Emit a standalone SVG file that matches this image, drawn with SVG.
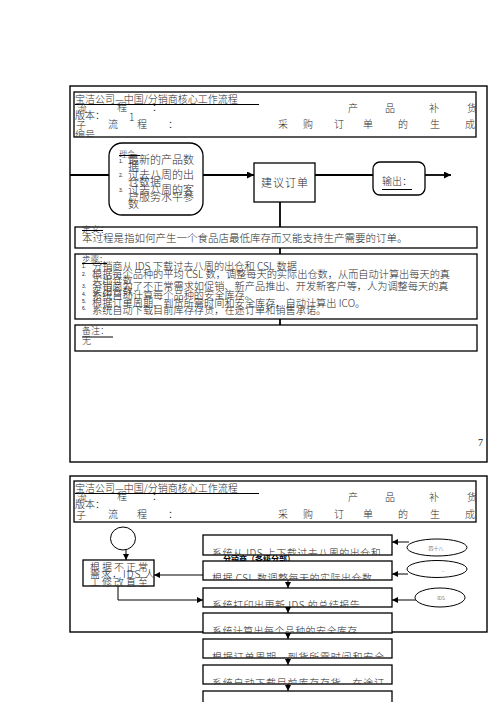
<svg xmlns="http://www.w3.org/2000/svg" width="496" height="702" viewBox="0 0 496 702">
<style>
.t{font-family:"Noto Sans CJK SC","Noto Sans",sans-serif;fill:#2a2a2a;font-weight:300}
.b{font-weight:bold;fill:#000}
.s{font-size:10px}
.h{font-size:10px;text-anchor:middle}
.frame{fill:none;stroke:#000;stroke-width:1.4}
.box{fill:#fff;stroke:#000;stroke-width:1.3}
.ln{fill:none;stroke:#000;stroke-width:1.8}
.ln2{fill:none;stroke:#000;stroke-width:1}
.ul{stroke:#000;stroke-width:1}
.num{font-family:"Liberation Sans",sans-serif;font-size:5px;fill:#222}
.el{fill:#fff;stroke:#000;stroke-width:1}
</style>
<defs>
<marker id="ah" viewBox="0 0 7 7" markerWidth="7" markerHeight="7" refX="7" refY="3.5" orient="auto" markerUnits="userSpaceOnUse"><path d="M0,0 L7,3.5 L0,7 z" fill="#000"/></marker>
<marker id="ah2" viewBox="0 0 6 6" markerWidth="6" markerHeight="6" refX="6" refY="3" orient="auto" markerUnits="userSpaceOnUse"><path d="M0,0 L6,3 L0,6 z" fill="#000"/></marker>
<clipPath id="c1"><rect x="75" y="93" width="401" height="44"/></clipPath>
<clipPath id="c2"><rect x="75" y="482" width="401" height="40"/></clipPath>
<clipPath id="b1"><rect x="203" y="535" width="189" height="20"/></clipPath>
<clipPath id="b2"><rect x="203" y="561" width="189" height="19"/></clipPath>
<clipPath id="b3"><rect x="203" y="588" width="189" height="19"/></clipPath>
<clipPath id="b4"><rect x="203" y="613" width="189" height="20"/></clipPath>
<clipPath id="b5"><rect x="203" y="639" width="189" height="19"/></clipPath>
<clipPath id="b6"><rect x="203" y="665" width="189" height="19"/></clipPath>
</defs>

<!-- ============ PAGE 1 ============ -->
<rect class="frame" x="70" y="86" width="417" height="376"/>

<g id="header1">
<rect class="box" x="74" y="92" width="402" height="45"/>
<g clip-path="url(#c1)">
<text class="t s" x="75" y="103">宝洁公司—中国/分销商核心工作流程</text>
<line class="ul" x1="75" y1="104.5" x2="259" y2="104.5"/>
<text class="t h" x="82" y="112">流</text><text class="t h" x="122" y="111">程</text><text class="t h" x="157" y="111">：</text>
<text class="t h" x="353" y="112">产</text><text class="t h" x="390" y="112">品</text><text class="t h" x="434" y="112">补</text><text class="t h" x="472" y="112">货</text>
<text class="t s" x="75" y="119">版本：</text>
<text class="t" x="129" y="121" font-size="10" font-family="Liberation Sans,sans-serif">1</text>
<text class="t h" x="81" y="129">子</text><text class="t h" x="113" y="128">流</text><text class="t h" x="142" y="128">程</text><text class="t h" x="173" y="128">：</text>
<text class="t h" x="283" y="128">采</text><text class="t h" x="308" y="128">购</text><text class="t h" x="339" y="128">订</text><text class="t h" x="368" y="128">单</text><text class="t h" x="403" y="128">的</text><text class="t h" x="435" y="128">生</text><text class="t h" x="470" y="128">成</text>
<text class="t s" x="75" y="139">编号</text>
</g>
</g>

<g id="connectors1">
<line class="ln" x1="280" y1="202" x2="280" y2="325"/>
<line class="ln" x1="70" y1="175" x2="109" y2="175"/>
<line class="ln" x1="203" y1="175" x2="254" y2="175" marker-end="url(#ah)"/>
<line class="ln" x1="315" y1="175" x2="373" y2="175"/>
<line class="ln" x1="425" y1="175" x2="451" y2="175" marker-end="url(#ah)"/>
</g>

<g id="input">
<rect class="box" x="109" y="143" width="94" height="72" rx="13" ry="13"/>
<text class="t" x="119" y="157" font-size="8">理会</text>
<line class="ul" x1="119" y1="155.5" x2="140" y2="155.5"/>
<text class="num" x="119" y="163">1.</text>
<text class="t" x="128" y="164" font-size="11">最新的产品数</text>
<text class="t" x="128" y="171" font-size="11">据</text>
<text class="num" x="119" y="177">2.</text>
<text class="t" x="128" y="179" font-size="11">过去八周的出</text>
<text class="t" x="128" y="186" font-size="11">仓数据</text>
<text class="num" x="119" y="192">3.</text>
<text class="t" x="128" y="194" font-size="11">过去八周的客</text>
<text class="t" x="128" y="201" font-size="11">户服务水平参</text>
<text class="t" x="128" y="208" font-size="11">数</text>
</g>

<g id="suggest">
<rect class="box" x="254" y="163" width="61" height="39"/>
<text class="t" x="285" y="187" font-size="11" text-anchor="middle" letter-spacing="1">建议订单</text>
</g>

<g id="output">
<rect class="box" x="373" y="162" width="52" height="33" rx="7" ry="7"/>
<text class="t" x="382" y="185" font-size="10">输出：</text>
<line class="ul" x1="382" y1="189.5" x2="412" y2="189.5"/>
</g>

<g id="definition">
<rect class="box" x="75" y="227" width="402" height="21"/>
<text class="t" x="82" y="233" font-size="9">定义：</text>
<line class="ul" x1="82" y1="230.5" x2="103" y2="230.5"/>
<text class="t" x="82" y="242" font-size="10.5">本过程是指如何产生一个食品店最低库存而又能支持生产需要的订单。</text>
</g>

<g id="steps">
<rect class="box" x="75" y="254" width="402" height="65"/>
<text class="t" x="82" y="262" font-size="8.5">步骤：</text>
<line class="ul" x1="82" y1="263.5" x2="107" y2="263.5"/>
<text class="num" x="82" y="268">1.</text>
<text class="t" x="92" y="270" font-size="10.2">分销商从 IDS 下载过去八周的出仓和 CSL 数据</text>
<text class="num" x="82" y="276">2.</text>
<text class="t" x="92" y="278" font-size="10.2">根据每个品种的平均 CSL 数，调整每天的实际出仓数，从而自动计算出每天的真</text>
<text class="t" x="92" y="284" font-size="10.2">实出仓数</text>
<text class="num" x="82" y="288">3.</text>
<text class="t" x="92" y="290" font-size="10.2">分销商为了不正常需求如促销、新产品推出、开发新客户等，人为调整每天的真</text>
<text class="t" x="92" y="295" font-size="10.2">实出仓数</text>
<text class="num" x="82" y="296">4.</text>
<text class="t" x="92" y="299" font-size="10.2">系统自动计算每个品种的安全库存。</text>
<text class="num" x="82" y="303">5.</text>
<text class="t" x="92" y="307" font-size="10.2">根据订单周期、到货所需时间和安全库存，自动计算出 ICO。</text>
<text class="num" x="82" y="310">6.</text>
<text class="t" x="92" y="314" font-size="10.2">系统自动下载目前库存存货，在途订单和销售承诺。</text>
</g>

<g id="notes">
<rect class="box" x="75" y="325" width="402" height="26"/>
<text class="t" x="82" y="334" font-size="9">备注：</text>
<line class="ul" x1="82" y1="337" x2="113" y2="337"/>
<text class="t" x="82" y="344" font-size="9">无</text>
</g>

<text id="page-no" x="478" y="446" font-family="Liberation Serif,serif" font-size="10" fill="#222">7</text>

<!-- ============ PAGE 2 ============ -->
<rect class="frame" x="70" y="476" width="417" height="156"/>

<g id="header2">
<rect class="box" x="74" y="481" width="402" height="41"/>
<g clip-path="url(#c2)">
<text class="t s" x="75" y="492">宝洁公司—中国/分销商核心工作流程</text>
<line class="ul" x1="75" y1="493.5" x2="259" y2="493.5"/>
<text class="t h" x="82" y="501">流</text><text class="t h" x="122" y="500">程</text><text class="t h" x="157" y="500">：</text>
<text class="t h" x="353" y="501">产</text><text class="t h" x="390" y="501">品</text><text class="t h" x="434" y="501">补</text><text class="t h" x="472" y="501">货</text>
<text class="t s" x="75" y="508">版本：</text>
<text class="t h" x="81" y="519">子</text><text class="t h" x="113" y="518">流</text><text class="t h" x="142" y="518">程</text><text class="t h" x="173" y="518">：</text>
<text class="t h" x="283" y="518">采</text><text class="t h" x="308" y="518">购</text><text class="t h" x="339" y="518">订</text><text class="t h" x="368" y="518">单</text><text class="t h" x="403" y="518">的</text><text class="t h" x="435" y="518">生</text><text class="t h" x="470" y="518">成</text>
</g>
</g>

<text class="t b" x="223" y="562" font-size="8">分销商（各级分部）</text>

<g id="connectors2">
<line class="ln2" x1="126" y1="550" x2="126" y2="560" marker-end="url(#ah2)"/>
<line class="ln2" x1="203" y1="575" x2="154" y2="575" marker-end="url(#ah2)"/>
<path class="ln2" d="M118,586 V600 H203" marker-end="url(#ah2)"/>
<line class="ln2" x1="288" y1="580" x2="288" y2="588" marker-end="url(#ah2)"/>
<line class="ln2" x1="288" y1="607" x2="288" y2="613" marker-end="url(#ah2)"/>
<line class="ln2" x1="288" y1="633" x2="288" y2="639" marker-end="url(#ah2)"/>
<line class="ln2" x1="288" y1="658" x2="288" y2="665" marker-end="url(#ah2)"/>
<line class="ln2" x1="288" y1="684" x2="288" y2="691" marker-end="url(#ah2)"/>
<line class="ln2" x1="409" y1="542" x2="392" y2="542" marker-end="url(#ah2)"/>
<line class="ln2" x1="408" y1="574" x2="392" y2="574" marker-end="url(#ah2)"/>
<line class="ln2" x1="416" y1="600" x2="392" y2="600" marker-end="url(#ah2)"/>
</g>

<g id="start">
<ellipse class="el" cx="123" cy="538.5" rx="12.5" ry="11.5"/>
</g>

<g id="manual">
<rect class="box" x="83" y="560" width="71" height="26" stroke-width="1"/>
<text class="t" x="90" y="571" font-size="10" letter-spacing="2">根据不正常</text>
<text class="t" x="90" y="578" font-size="10" letter-spacing="1">需求，IDS 人</text>
<text class="t" x="90" y="586" font-size="10" letter-spacing="2">工修改直至</text>
</g>

<g id="s1"><rect class="box" x="203" y="535" width="189" height="20" stroke-width="1"/>
<text class="t" x="212" y="557" font-size="10" clip-path="url(#b1)" letter-spacing="0.5">系统从 IDS 上下载过去八周的出仓和</text></g>
<g id="s2"><rect class="box" x="203" y="561" width="189" height="19" stroke-width="1"/>
<text class="t" x="212" y="582" font-size="10" clip-path="url(#b2)" letter-spacing="0.5">根据 CSL 数调整每天的实际出仓数</text></g>
<g id="s3"><rect class="box" x="203" y="588" width="189" height="19" stroke-width="1"/>
<text class="t" x="212" y="609" font-size="10" clip-path="url(#b3)" letter-spacing="0.5">系统打印出更新 IDS 的总结报告</text></g>
<g id="s4"><rect class="box" x="203" y="613" width="189" height="20" stroke-width="1"/>
<text class="t" x="212" y="635" font-size="10" clip-path="url(#b4)" letter-spacing="0.4">系统计算出每个品种的安全库存</text></g>
<g id="s5"><rect class="box" x="203" y="639" width="189" height="19" stroke-width="1"/>
<text class="t" x="212" y="660.5" font-size="10" clip-path="url(#b5)" letter-spacing="0.8">根据订单周期、到货所需时间和安全</text></g>
<g id="s6"><rect class="box" x="203" y="665" width="189" height="19" stroke-width="1"/>
<text class="t" x="212" y="686.5" font-size="10" clip-path="url(#b6)" letter-spacing="0.8">系统自动下载目前库存存货，在途订</text></g>
<g id="s7"><rect class="box" x="203" y="691" width="189" height="20" stroke-width="1"/></g>

<g id="e1"><ellipse class="el" cx="437" cy="547.5" rx="30" ry="8.5"/>
<text class="t" x="436" y="550" font-size="5" fill="#777" text-anchor="middle">四十八</text></g>
<g id="e2"><ellipse class="el" cx="437" cy="569" rx="30" ry="8.5"/>
<text class="t" x="443" y="572" font-size="5" fill="#777" text-anchor="middle">..</text></g>
<g id="e3"><ellipse class="el" cx="440" cy="597.5" rx="25" ry="9.5"/>
<text class="t" x="441" y="600" font-size="5" fill="#777" text-anchor="middle">IDS</text></g>
</svg>
